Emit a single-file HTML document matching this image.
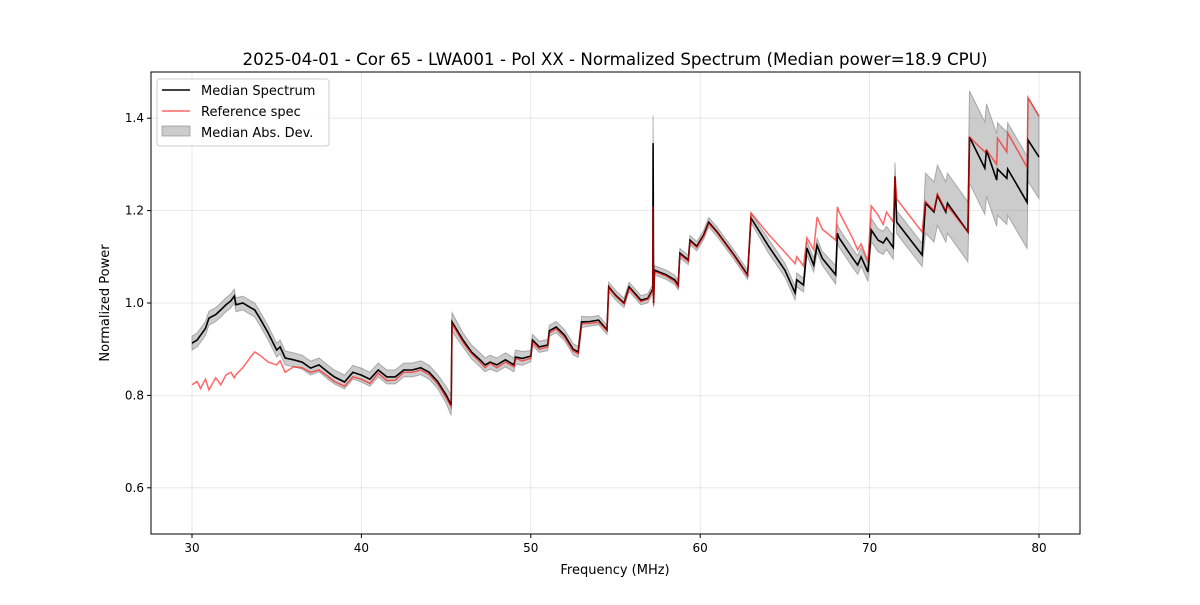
<!DOCTYPE html>
<html><head><meta charset="utf-8"><style>
body{margin:0;background:#fff;font-family:"Liberation Sans","DejaVu Sans",sans-serif}
svg text{font-family:"DejaVu Sans","Liberation Sans",sans-serif}
</style></head><body>
<svg id="chart" width="1200" height="600" xmlns="http://www.w3.org/2000/svg">
<rect width="1200" height="600" fill="#fff"/>
<g id="grid"></g>
<g id="series"></g>
<rect x="151" y="72" width="929" height="462" fill="none" stroke="#000" stroke-width="1"/>
<g id="ticks"></g>
<text x="615" y="65" text-anchor="middle" font-size="16.7">2025-04-01 - Cor 65 - LWA001 - Pol XX - Normalized Spectrum (Median power=18.9 CPU)</text>
<text x="615" y="574" text-anchor="middle" font-size="13">Frequency (MHz)</text>
<text x="109" y="303" text-anchor="middle" font-size="13" transform="rotate(-90 109 303)">Normalized Power</text>
<g>
<rect x="157" y="79" width="172" height="67" rx="3" fill="#fff" fill-opacity="0.8" stroke="#ccc"/>
<g><line x1="162" y1="90" x2="190" y2="90" stroke="#000" stroke-width="1.5"/><text x="201" y="95" font-size="13">Median Spectrum</text></g>
<g><line x1="162" y1="111" x2="190" y2="111" stroke="red" stroke-opacity="0.6" stroke-width="1.5"/><text x="201" y="116" font-size="13">Reference spec</text></g>
<g><rect x="162" y="126" width="28" height="10" fill="#808080" fill-opacity="0.4" stroke="#808080" stroke-opacity="0.6"/><text x="201" y="137" font-size="13">Median Abs. Dev.</text></g>
</g>
</svg>
<script>
const freqs=[30.0,30.3,30.5,30.8,31.0,31.4,31.7,32.0,32.3,32.5,32.6,33.0,33.5,33.7,34.0,34.5,35.0,35.2,35.5,36.0,36.5,37.0,37.5,38.0,38.4,39.0,39.5,40.0,40.5,41.0,41.5,42.0,42.5,43.0,43.5,44.0,44.5,45.0,45.3,45.35,46.0,46.5,47.0,47.3,47.6,48.0,48.5,49.0,49.1,49.5,50.0,50.1,50.5,51.0,51.1,51.5,52.0,52.5,52.8,53.0,53.5,54.0,54.5,54.6,55.0,55.5,55.8,56.5,56.9,57.2,57.22,57.25,57.3,58.0,58.5,58.7,58.8,59.3,59.4,59.8,60.2,60.5,61.0,62.0,62.8,63.0,64.0,65.0,65.6,65.7,66.1,66.3,66.7,66.9,67.2,68.0,68.1,68.2,69.0,69.3,69.5,69.9,70.1,70.5,70.8,71.0,71.4,71.5,71.6,73.1,73.3,73.8,74.0,74.5,74.6,75.8,75.9,76.8,76.9,77.5,77.55,78.1,78.15,79.3,79.35,80.0];
const median=[.913,.92,.93,.945,.967,.975,.985,.996,1.005,1.015,.996,1.0,.989,.985,.967,.935,.898,.905,.881,.877,.872,.859,.866,.851,.84,.829,.85,.844,.835,.855,.84,.84,.855,.855,.86,.85,.83,.801,.779,.959,.92,.894,.877,.866,.872,.866,.877,.866,.883,.88,.885,.92,.905,.909,.94,.948,.93,.9,.894,.959,.96,.963,.942,1.035,1.017,1.0,1.035,1.006,1.01,1.03,1.346,1.0,1.071,1.061,1.05,1.039,1.108,1.093,1.136,1.123,1.147,1.175,1.154,1.104,1.061,1.184,1.125,1.071,1.022,1.05,1.039,1.119,1.082,1.125,1.097,1.061,1.151,1.141,1.097,1.082,1.1,1.067,1.158,1.136,1.13,1.141,1.12,1.274,1.175,1.104,1.216,1.197,1.233,1.197,1.216,1.154,1.359,1.292,1.331,1.266,1.29,1.27,1.29,1.218,1.353,1.316];
const reference=[.823,.83,.815,.835,.812,.838,.823,.844,.85,.838,.845,.86,.885,.894,.887,.872,.866,.875,.85,.862,.86,.85,.855,.842,.83,.82,.84,.835,.826,.848,.832,.833,.85,.85,.855,.845,.825,.795,.775,.955,.915,.89,.872,.86,.87,.86,.872,.862,.88,.875,.88,.915,.9,.905,.935,.944,.925,.896,.89,.955,.956,.958,.94,1.033,1.015,.998,1.032,1.003,1.008,1.028,1.21,.995,1.068,1.058,1.046,1.035,1.105,1.09,1.133,1.12,1.145,1.172,1.152,1.102,1.058,1.195,1.15,1.11,1.085,1.1,1.08,1.141,1.115,1.186,1.16,1.136,1.208,1.197,1.14,1.115,1.128,1.09,1.21,1.19,1.17,1.197,1.175,1.274,1.225,1.154,1.22,1.2,1.236,1.2,1.21,1.154,1.359,1.327,1.331,1.3,1.357,1.327,1.368,1.294,1.445,1.404];
const mad=[.015,.015,.015,.015,.015,.015,.015,.015,.015,.015,.015,.015,.015,.015,.015,.015,.015,.015,.015,.015,.015,.015,.015,.015,.015,.015,.015,.015,.015,.015,.015,.015,.015,.015,.015,.015,.015,.018,.022,.02,.015,.015,.015,.015,.015,.015,.015,.015,.015,.015,.012,.012,.012,.012,.012,.012,.012,.012,.012,.012,.01,.01,.01,.01,.01,.01,.01,.01,.01,.01,.06,.01,.01,.01,.01,.01,.01,.01,.01,.01,.01,.01,.01,.01,.01,.01,.015,.015,.015,.015,.015,.015,.015,.015,.015,.02,.02,.02,.02,.02,.02,.02,.025,.025,.025,.025,.025,.03,.025,.025,.065,.065,.065,.065,.065,.065,.1,.1,.1,.1,.1,.1,.1,.1,.09,.09];
const xTicks=[30,40,50,60,70,80];
const yTicks=[0.6,0.8,1.0,1.2,1.4];
const NS="http://www.w3.org/2000/svg";
const X0=151,X1=1080,Y0=534,Y1=72,xmin=27.58,xmax=82.42,ymin=0.5,ymax=1.5;
const sx=f=>X0+(f-xmin)/(xmax-xmin)*(X1-X0);
const sy=v=>Y0-(v-ymin)/(ymax-ymin)*(Y0-Y1);
function mk(tag,attrs,parent){const e=document.createElementNS(NS,tag);for(const k in attrs)e.setAttribute(k,attrs[k]);parent.appendChild(e);return e;}
const grid=document.getElementById('grid'),ticks=document.getElementById('ticks'),series=document.getElementById('series');
xTicks.forEach(t=>{const x=sx(t);
 const g=mk('line',{x1:x,x2:x,y1:Y1,y2:Y0,stroke:'#b0b0b0','stroke-opacity':0.35,'stroke-width':0.8},grid);
 
 
 const tk=mk('line',{x1:x,x2:x,y1:Y0,y2:Y0+4,stroke:'#000'},ticks);
 
 
 const tx=mk('text',{x:x,y:Y0+18,'text-anchor':'middle','font-size':12},ticks);tx.textContent=t;
 
 });
yTicks.forEach(t=>{const y=sy(t);
 const g=mk('line',{x1:X0,x2:X1,y1:y,y2:y,stroke:'#b0b0b0','stroke-opacity':0.35,'stroke-width':0.8},grid);
 
 
 const tk=mk('line',{x1:X0-4,x2:X0,y1:y,y2:y,stroke:'#000'},ticks);
 
 
 const tx=mk('text',{x:X0-7,y:y+4,'text-anchor':'end','font-size':12},ticks);tx.textContent=t.toFixed(1);
 
 });
let up=freqs.map((f,i)=>sx(f).toFixed(1)+','+sy(median[i]+mad[i]).toFixed(1));
let lo=freqs.map((f,i)=>sx(f).toFixed(1)+','+sy(median[i]-mad[i]).toFixed(1)).reverse();
const band=mk('polygon',{points:up.concat(lo).join(' '),fill:'#808080','fill-opacity':0.4,stroke:'#808080','stroke-opacity':0.6,'stroke-width':1},series);


const med=mk('polyline',{points:freqs.map((f,i)=>sx(f).toFixed(1)+','+sy(median[i]).toFixed(1)).join(' '),fill:'none',stroke:'#000','stroke-width':1.6},series);


const ref=mk('polyline',{points:freqs.map((f,i)=>sx(f).toFixed(1)+','+sy(reference[i]).toFixed(1)).join(' '),fill:'none',stroke:'red','stroke-opacity':0.6,'stroke-width':1.5},series);


</script>
</body></html>
